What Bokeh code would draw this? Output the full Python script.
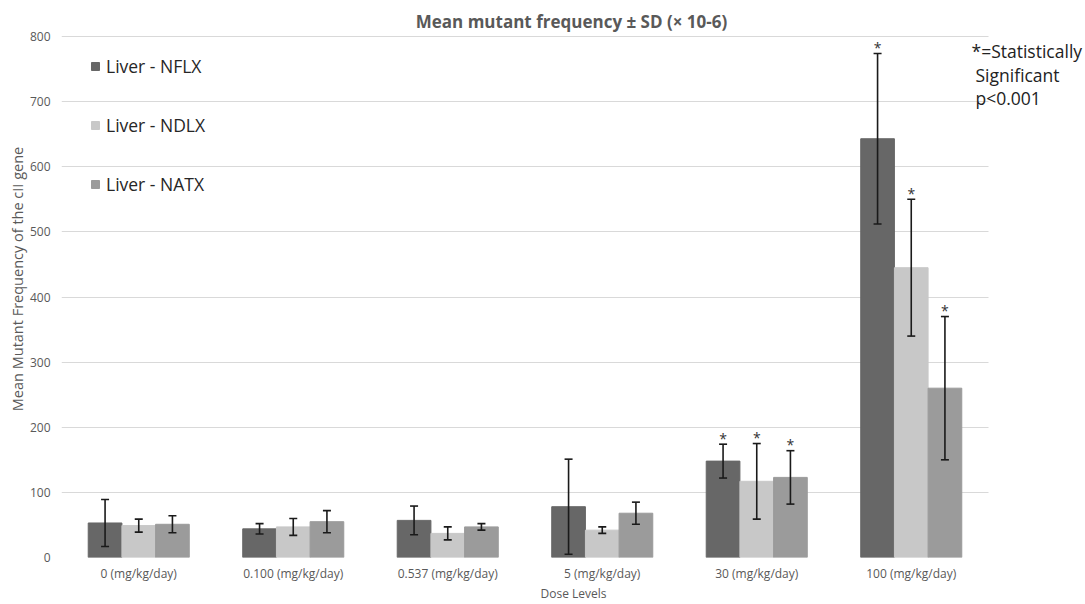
from bokeh.plotting import figure
from bokeh.models import (ColumnDataSource, Range1d, Whisker, TeeHead, FixedTicker,
                          Label, Legend, LegendItem, SingleIntervalTicker, BoxAnnotation)
from bokeh.core.properties import value
from bokeh.embed import file_html
from bokeh.resources import INLINE

# ---- data ----
doses = ["0 (mg/kg/day)", "0.100 (mg/kg/day)", "0.537 (mg/kg/day)",
         "5 (mg/kg/day)", "30 (mg/kg/day)", "100 (mg/kg/day)"]
series = ["Liver - NFLX", "Liver - NDLX", "Liver - NATX"]
nflx_mean = [53, 44, 57, 78, 148, 643]
nflx_sd = [36, 8, 22, 73, 26, 131]
ndlx_mean = [49, 47, 37, 42, 117, 445]
ndlx_sd = [10, 13, 10, 5, 58, 105]
natx_mean = [51, 55, 47, 68, 123, 260]
natx_sd = [13, 17, 5, 17, 41, 110]
significant = [False, False, False, False, True, True]
y_ticks_step = 100

title_text = "Mean mutant frequency \u00b1 SD (\u00d7 10-6)"
note_lines = ["*=Statistically", "Significant", "p<0.001"]

colors = ["#676767", "#c8c8c8", "#9b9b9b"]
offsets = [-0.218, 0.0, 0.218]
FONT = "Open Sans"

n = len(doses)
centers = [i + 0.5 for i in range(n)]

# layout constants (pixels)
FL, FB = 61, 557          # frame left / bottom
GX = 154.5                # px per dose group
PY = 0.65125              # px per y unit

p = figure(x_range=Range1d(0, (1085 - FL) / GX), y_range=Range1d(0, FB / PY),
           width=1085, height=604, output_backend="svg", toolbar_location=None,
           min_border=0, min_border_left=FL, min_border_right=0, min_border_top=0,
           min_border_bottom=604 - FB)
p.title.visible = False
p.outline_line_color = None
p.xgrid.grid_line_color = None
p.ygrid.grid_line_color = "#d9d9d9"
p.ygrid.grid_line_width = 1

for ax in (p.xaxis, p.yaxis):
    ax.axis_line_color = None
    ax.major_tick_line_color = None
    ax.minor_tick_line_color = None
    ax.major_tick_out = 0
    ax.major_tick_in = 0
    ax.minor_tick_out = 0
    ax.major_label_text_font = FONT
    ax.major_label_text_color = "#595959"
    ax.major_label_text_font_size = "12px"
    ax.axis_label_text_font = FONT
    ax.axis_label_text_color = "#595959"
    ax.axis_label_text_font_style = "normal"

p.yaxis.ticker = SingleIntervalTicker(interval=y_ticks_step, num_minor_ticks=0)
p.yaxis.major_label_standoff = 11
p.yaxis.axis_label = "Mean Mutant Frequency of the cII gene"
p.yaxis.axis_label_text_font_size = "14.5px"
p.yaxis.axis_label_standoff = 0

p.xaxis.ticker = FixedTicker(ticks=centers)
p.xaxis.major_label_overrides = {c: d for c, d in zip(centers, doses)}
p.xaxis.major_label_standoff = 7
p.xaxis.axis_label = "Dose Levels"
p.xaxis.axis_label_text_font_size = "12px"
p.xaxis.axis_label_standoff = 0

# the plot area ends after the last dose group: hide gridlines beyond it
p.add_layout(BoxAnnotation(left=n, fill_color="white", fill_alpha=1,
                           line_color=None, level="annotation"))

means = [nflx_mean, ndlx_mean, natx_mean]
sds = [nflx_sd, ndlx_sd, natx_sd]
items = []
for name, m, s, c, off in zip(series, means, sds, colors, offsets):
    src = ColumnDataSource(dict(x=[cx + off for cx in centers], dose=doses, mean=m,
                                upper=[a + b for a, b in zip(m, s)],
                                lower=[a - b for a, b in zip(m, s)]))
    r = p.vbar(x="x", top="mean", width=0.218, source=src,
               fill_color=c, line_color=c)
    items.append(LegendItem(label=name, renderers=[r]))
    w = Whisker(base="x", upper="upper", lower="lower",
                source=src, line_color="#1a1a1a", line_width=1.6, level="annotation",
                upper_head=TeeHead(size=8, line_color="#1a1a1a", line_width=1.6),
                lower_head=TeeHead(size=8, line_color="#1a1a1a", line_width=1.6))
    p.add_layout(w)
    idx = [i for i, f in enumerate(significant) if f]
    ssrc = ColumnDataSource(dict(x=[centers[i] + off for i in idx],
                                 upper=[m[i] + s[i] for i in idx],
                                 star=["*"] * len(idx)))
    p.text(x="x", y="upper", text="star", source=ssrc,
           text_align="center", text_baseline="middle", y_offset=-6,
           text_font_size="14px", text_color="#333333", text_font=value(FONT))

legend = Legend(items=items, location=(29, 361), orientation="vertical",
                glyph_width=10, glyph_height=10, label_standoff=6, spacing=35,
                label_height=24, padding=0, margin=0, border_line_color=None,
                background_fill_alpha=0, label_text_font=FONT,
                label_text_font_size="17.5px", label_text_color="#262626")
p.add_layout(legend)

# title (centred at ~571 px, ~21 px from the top)
p.add_layout(Label(x=(571 - FL) / GX, y=(FB - 21) / PY, text=title_text,
                   text_align="center", text_baseline="middle", text_font=FONT,
                   text_font_style="bold", text_font_size="17px", text_color="#595959"))
# significance note
note_px = [(971, 50), (975, 74), (975, 97)]
for line, (px, py) in zip(note_lines, note_px):
    p.add_layout(Label(x=(px - FL) / GX, y=(FB - py) / PY, text=line,
                       text_align="left", text_baseline="middle", text_font=FONT,
                       text_font_size="17.5px", text_color="#222222"))

open("out.html", "w").write(file_html(p, INLINE))
